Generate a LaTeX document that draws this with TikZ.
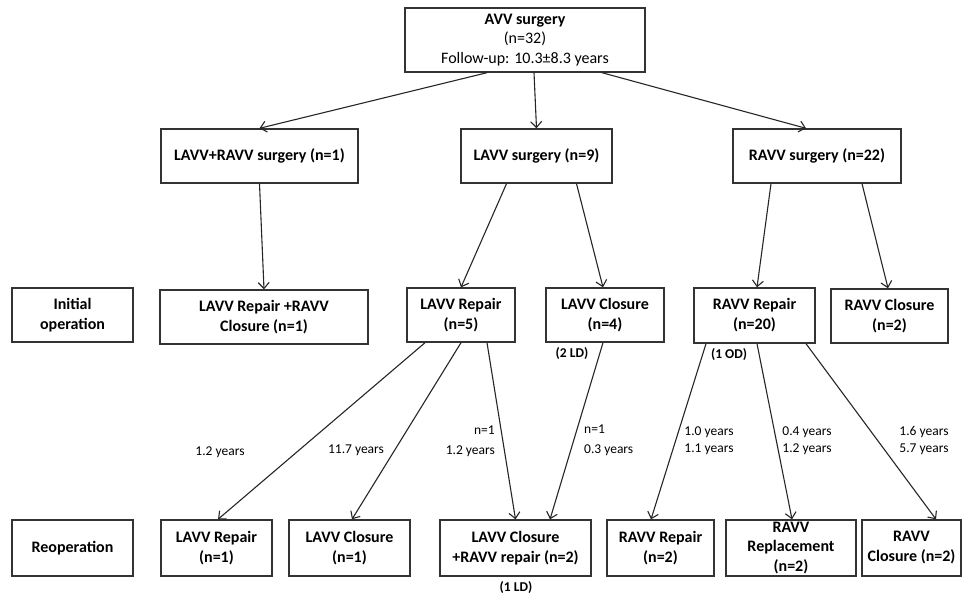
\documentclass[tikz,border=0pt]{standalone}
\usepackage{fontspec}
\setmainfont{Carlito}
\usetikzlibrary{arrows.meta}
\tikzset{
 box/.style={draw=black!80, line width=1.4pt, align=center, inner sep=0, minimum height=54pt, font=\fontsize{16}{20}\selectfont\bfseries},
 link/.style={draw=black!85, line width=1.1pt, -{Straight Barb[length=6pt,width=11pt]}},
 note/.style={font=\fontsize{13.5}{17}\selectfont, align=center, inner sep=0},
 tag/.style={font=\fontsize{13.5}{17}\selectfont\bfseries, inner sep=0},
}

\begin{document}
\begin{tikzpicture}[x=1pt,y=-1pt]
\useasboundingbox (0,0) rectangle (963,597);

% study group
\node[box, minimum width=240pt, minimum height=64pt, font=\fontsize{16}{19.5}\selectfont] (avv) at (525,40) {\textbf{AVV surgery}\\(n=32)\\Follow-up: 10.3±8.3 years};

% type of surgery
\node[box, minimum width=197pt] (lrs) at (259.5,156) {LAVV+RAVV surgery (n=1)};
\node[box, minimum width=151pt] (ls) at (536.5,156) {LAVV surgery (n=9)};
\node[box, minimum width=168pt] (rs) at (817,156) {RAVV surgery (n=22)};

% initial operation
\node[box, minimum width=121pt] (init) at (72.5,315) {Initial\\operation};
\node[box, minimum width=208pt] (lrrc) at (264,317) {LAVV Repair +RAVV\\Closure (n=1)};
\node[box, minimum width=108pt] (lrep) at (461,315) {LAVV Repair\\(n=5)};
\node[box, minimum width=118pt] (lclo) at (605,315) {LAVV Closure\\(n=4)};
\node[box, minimum width=121pt, minimum height=55pt] (rrep) at (754.5,315.5) {RAVV Repair\\(n=20)};
\node[box, minimum width=117pt] (rclo) at (889.5,316) {RAVV Closure\\(n=2)};

% reoperation
\node[box, minimum width=121pt, minimum height=56pt] (reop) at (72.5,548) {Reoperation};
\node[box, minimum width=111pt, minimum height=56pt] (lrep2) at (216.5,548) {LAVV Repair\\(n=1)};
\node[box, minimum width=121pt, minimum height=56pt] (lclo2) at (349.5,548) {LAVV Closure\\(n=1)};
\node[box, minimum width=151pt, minimum height=56pt] (lcrr) at (515.5,548) {LAVV Closure\\+RAVV repair (n=2)};
\node[box, minimum width=107pt, minimum height=56pt] (rrep2) at (660.5,548) {RAVV Repair\\(n=2)};
\node[box, minimum width=130pt, minimum height=56pt, font=\fontsize{16}{19.5}\selectfont\bfseries] (rrpl) at (791,548) {RAVV\\Replacement\\(n=2)};
\node[box, minimum width=99pt, minimum height=56pt] (rclo2) at (911.5,548) {RAVV\\Closure (n=2)};

% deaths
\node[tag] (ld1) at (572,354) {(2 LD)};
\node[tag] (od) at (729,355) {(1 OD)};
\node[tag] (ld2) at (516,588) {(1 LD)};

% time to reoperation
\node[note] (t1) at (220,452) {1.2 years};
\node[note] (t2) at (356,450) {11.7 years};
\node[note, align=right, anchor=east, font=\fontsize{13.5}{20}\selectfont] (t3) at (495,441) {n=1\\1.2 years};
\node[note, align=left, anchor=west, font=\fontsize{13.5}{20}\selectfont] (t4) at (584,440) {n=1\\0.3 years};
\node[note] (t5) at (709,441) {1.0 years\\1.1 years};
\node[note] (t6) at (807,441) {0.4 years\\1.2 years};
\node[note] (t7) at (924,441) {1.6 years\\5.7 years};

% connectors
\draw[link] ([xshift=-38pt]avv.south) -- (lrs.north);
\draw[link] ([xshift=9pt]avv.south) -- (ls.north);
\draw[link] ([xshift=77pt]avv.south) -- ([xshift=-11pt]rs.north);

\draw[link] (lrs.south) -- (lrrc.north);
\draw[link] ([xshift=-30pt]ls.south) -- (lrep.north);
\draw[link] ([xshift=40pt]ls.south) -- ([xshift=-2pt]lclo.north);
\draw[link] ([xshift=-46pt]rs.south) -- ([xshift=2.5pt]rrep.north);
\draw[link] ([xshift=45pt]rs.south) -- ([xshift=-1.5pt]rclo.north);

\draw[link] ([xshift=-36pt]lrep.south) -- ([xshift=1.5pt]lrep2.north);
\draw[link] (lrep.south) -- ([xshift=2.5pt]lclo2.north);
\draw[link] ([xshift=26pt]lrep.south) -- (lcrr.north);
\draw[link] ([xshift=-2pt]lclo.south) -- ([xshift=34.5pt]lcrr.north);
\draw[link] ([xshift=-48.5pt]rrep.south) -- ([xshift=-9.5pt]rrep2.north);
\draw[link] ([xshift=2.5pt]rrep.south) -- ([xshift=1pt]rrpl.north);
\draw[link] ([xshift=51.5pt]rrep.south) -- ([xshift=24.5pt]rclo2.north);
\end{tikzpicture}
\end{document}
